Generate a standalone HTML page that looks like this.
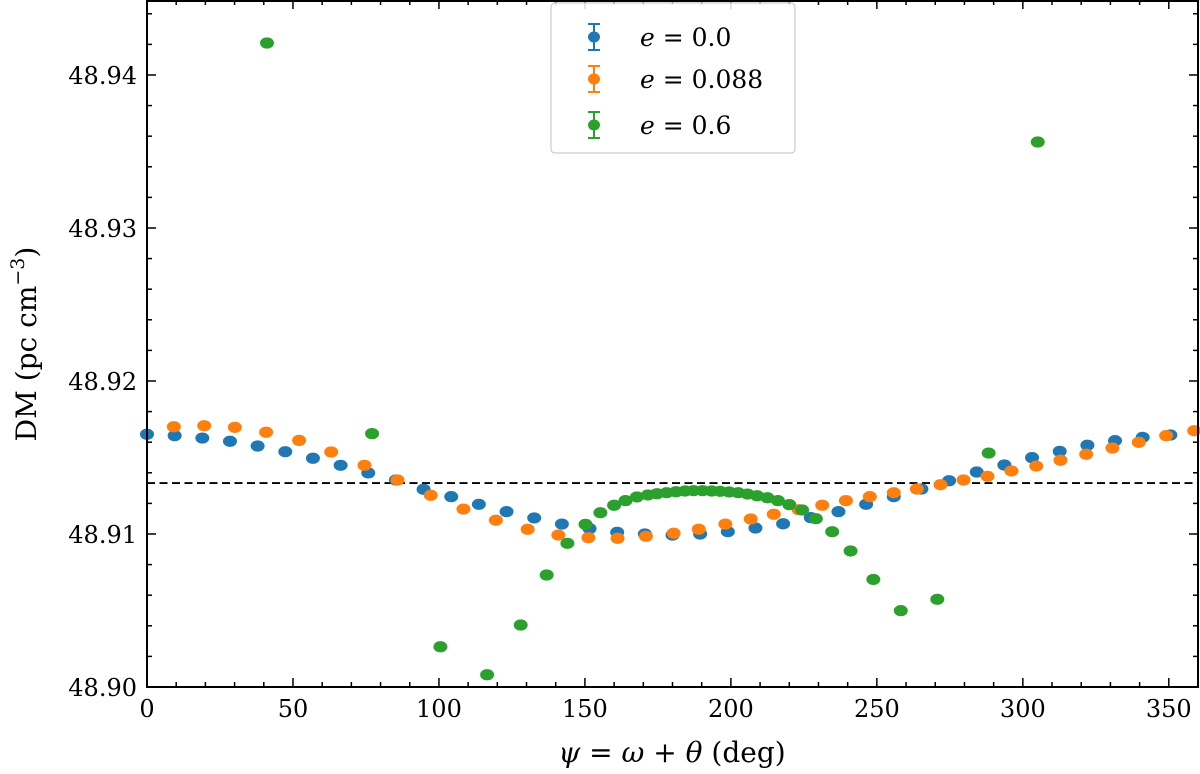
<!DOCTYPE html>
<html><head><meta charset="utf-8"><style>
body{margin:0;background:#fff;}
svg{display:block;font-family:"DejaVu Serif","Liberation Serif",serif;}
</style></head><body>
<svg id="chart" width="1200" height="774" viewBox="0 0 1200 774" xmlns="http://www.w3.org/2000/svg">
<g id="marks"></g>
<g id="axes"></g>
</svg>
<script>
const blueX = [0,9.47,18.95,28.42,37.89,47.37,56.84,66.32,75.79,85.26,94.74,104.21,113.68,123.16,132.63,142.11,151.58,161.05,170.53,180,189.47,198.95,208.42,217.89,227.37,236.84,246.32,255.79,265.26,274.74,284.21,293.68,303.16,312.63,322.11,331.58,341.05,350.53];
const blueY = [48.91652,48.91643,48.91627,48.91606,48.91575,48.91538,48.91495,48.91449,48.91399,48.91353,48.91292,48.91244,48.91194,48.91146,48.91105,48.91065,48.91035,48.91011,48.91000,48.90993,48.91000,48.91015,48.91039,48.91067,48.91107,48.91146,48.91194,48.91244,48.91294,48.91348,48.91405,48.91451,48.91499,48.91540,48.91580,48.91610,48.91632,48.91647];
const orangeX = [9.2,19.6,30.1,40.8,52.1,63.1,74.5,85.8,97.2,108.4,119.5,130.4,140.9,151.2,161.2,170.9,180.4,189.0,198.1,206.8,214.7,223.2,231.3,239.4,247.6,255.8,263.7,271.8,279.7,287.9,296.1,304.6,312.9,321.7,330.7,339.7,349.1,358.7];
const orangeY = [48.91701,48.91708,48.91697,48.91665,48.91612,48.91536,48.91449,48.91353,48.91253,48.91163,48.91090,48.91031,48.90993,48.90976,48.90972,48.90985,48.91005,48.91031,48.91065,48.91098,48.91129,48.91159,48.91188,48.91218,48.91244,48.91270,48.91294,48.91322,48.91353,48.91377,48.91412,48.91444,48.91482,48.91521,48.91562,48.91599,48.91643,48.91675];
const greenX = [41.1,77.1,100.5,116.5,128,136.9,144,150.2,155.3,160,163.9,167.8,171.6,174.7,178,181.2,184.3,187.2,190.3,193.4,196.3,199.4,202.5,205.7,209,212.5,216.1,220,224.4,229.1,234.7,241,248.8,258.2,270.7,288.3,305.1];
const greenY = [48.94209,48.91656,48.90263,48.90080,48.90405,48.90732,48.90939,48.91063,48.91139,48.91188,48.91218,48.91242,48.91255,48.91263,48.91270,48.91276,48.91281,48.91283,48.91283,48.91281,48.91279,48.91275,48.91270,48.91261,48.91250,48.91237,48.91218,48.91192,48.91157,48.91100,48.91015,48.90889,48.90703,48.90499,48.90573,48.91529,48.93562];
const refLine = 48.91333;
const xTicks = [0,50,100,150,200,250,300,350];
const yTicks = [48.90,48.91,48.92,48.93,48.94];

const L=147,R=1198,T=0,B=687;
const X0=0,X1=360,Y0=48.90,Y1=48.9449;
const sx=v=>L+(v-X0)/(X1-X0)*(R-L);
const sy=v=>B-(v-Y0)/(Y1-Y0)*(B-T);
const NS="http://www.w3.org/2000/svg";
function mk(tag,attrs,parent){const e=document.createElementNS(NS,tag);for(const k in attrs)e.setAttribute(k,attrs[k]);parent.appendChild(e);return e;}
const marks=document.getElementById('marks'), axes=document.getElementById('axes');

const rl=mk('line',{x1:L,x2:R,y1:sy(refLine),y2:sy(refLine),stroke:'#000','stroke-width':1.8,'stroke-dasharray':'8,4.5'},marks);



function series(xs,ys,color,name){
  const g=mk('g',{},marks);
  
  
  xs.forEach((x,i)=>{
    const p=mk('ellipse',{cx:sx(x),cy:sy(ys[i]),rx:7,ry:5.6,fill:color},g);
    
    
  });
}
series(blueX,blueY,'#1f77b4','e-0');
series(orangeX,orangeY,'#ff7f0e','e-0088');
series(greenX,greenY,'#2ca02c','e-06');

const fr=mk('rect',{x:L,y:T+1,width:R-L,height:B-T-1,fill:'none',stroke:'#000','stroke-width':2},axes);



for(let v=0;v<=360;v+=10){
  const major=v%50===0, len=major?9:5;
  mk('line',{x1:sx(v),x2:sx(v),y1:B,y2:B-len,stroke:'#000','stroke-width':1.5},axes);
  mk('line',{x1:sx(v),x2:sx(v),y1:T,y2:T+len,stroke:'#000','stroke-width':1.5},axes);
}
xTicks.forEach(v=>{
  const t=mk('text',{x:sx(v),y:B+30,'text-anchor':'middle','font-size':24},axes);
  t.textContent=v;
  
  
});
for(let k=0;k<=22;k++){
  const v=48.90+k*0.002; if(v>Y1) break;
  const major=k%5===0,len=major?9:5;
  mk('line',{x1:L,x2:L+len,y1:sy(v),y2:sy(v),stroke:'#000','stroke-width':1.5},axes);
  mk('line',{x1:R,x2:R-len,y1:sy(v),y2:sy(v),stroke:'#000','stroke-width':1.5},axes);
}
yTicks.forEach(v=>{
  const t=mk('text',{x:L-10,y:sy(v)+9,'text-anchor':'end','font-size':24},axes);
  t.textContent=v.toFixed(2);
  
  
});
</script>
<svg style="position:absolute;left:0;top:0" width="1200" height="774">
<text x="672" y="762" text-anchor="middle" font-size="28" font-family="DejaVu Serif, serif"><tspan font-style="italic">ψ</tspan> = <tspan font-style="italic">ω</tspan> + <tspan font-style="italic">θ</tspan> (deg)</text>
<text transform="translate(36,344) rotate(-90)" text-anchor="middle" font-size="28" font-family="DejaVu Serif, serif">DM (pc cm<tspan font-size="19" dy="-12">−3</tspan><tspan dy="12">)</tspan></text>
<g font-family="DejaVu Serif, serif" font-size="25">
<rect x="551" y="3" width="244" height="150" rx="4" fill="#fff" fill-opacity="0.85" stroke="#ccc" stroke-width="1.2"/>
<g stroke="#1f77b4" stroke-width="2">
<line x1="594" x2="594" y1="24" y2="50"/><line x1="588" x2="600" y1="24" y2="24"/><line x1="588" x2="600" y1="50" y2="50"/>
<ellipse cx="594" cy="37" rx="6" ry="5.5" fill="#1f77b4" stroke="none"/></g>
<text x="640" y="46"><tspan font-style="italic">e</tspan> = 0.0</text>
<g stroke="#ff7f0e" stroke-width="2">
<line x1="594" x2="594" y1="66" y2="92"/><line x1="588" x2="600" y1="66" y2="66"/><line x1="588" x2="600" y1="92" y2="92"/>
<ellipse cx="594" cy="79" rx="6" ry="5.5" fill="#ff7f0e" stroke="none"/></g>
<text x="640" y="88"><tspan font-style="italic">e</tspan> = 0.088</text>
<g stroke="#2ca02c" stroke-width="2">
<line x1="594" x2="594" y1="112" y2="138"/><line x1="588" x2="600" y1="112" y2="112"/><line x1="588" x2="600" y1="138" y2="138"/>
<ellipse cx="594" cy="125" rx="6" ry="5.5" fill="#2ca02c" stroke="none"/></g>
<text x="640" y="134"><tspan font-style="italic">e</tspan> = 0.6</text>
</g>
</svg>
</body></html>
